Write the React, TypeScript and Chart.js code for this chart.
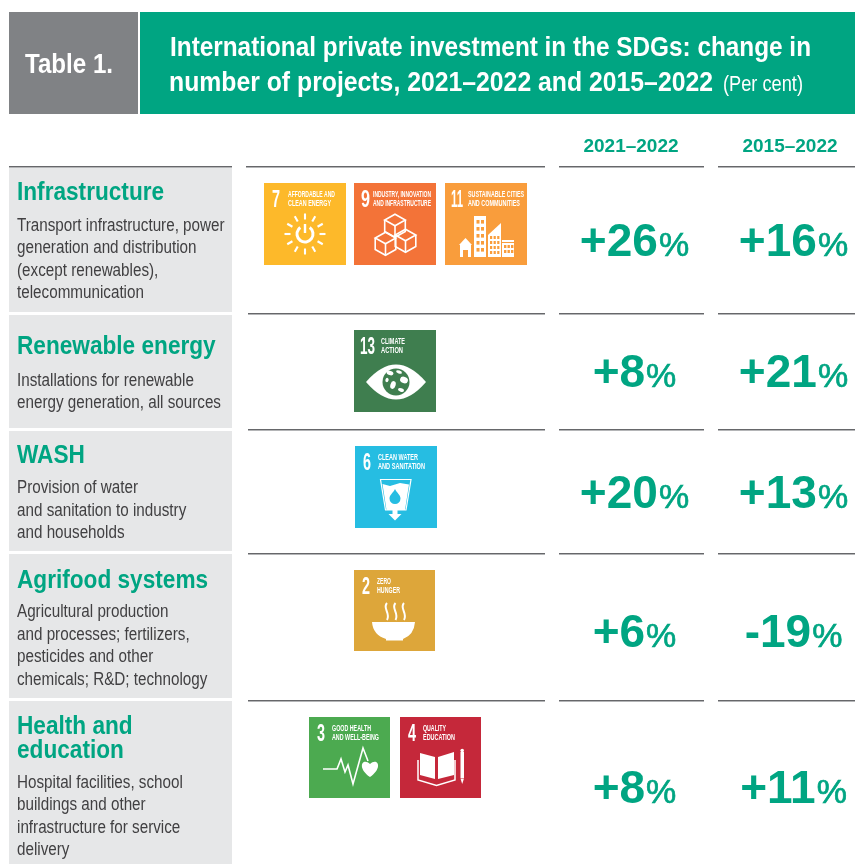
import React, { useEffect, useRef } from "react";
import { Chart, registerables, CategoryScale } from "chart.js";

// ---------- data ----------
const periods = ["2021–2022", "2015–2022"];
const rows = ["Infrastructure", "Renewable energy", "WASH", "Agrifood systems", "Health and education"];
const change2021 = [26, 8, 20, 6, 8];
const change2015 = [16, 21, 13, -19, 11];
const headingLines = [["Infrastructure"], ["Renewable energy"], ["WASH"], ["Agrifood systems"], ["Health and", "education"]];
const descriptions = [
  ["Transport infrastructure, power", "generation and distribution", "(except renewables),", "telecommunication"],
  ["Installations for renewable", "energy generation, all sources"],
  ["Provision of water", "and sanitation to industry", "and households"],
  ["Agricultural production", "and processes; fertilizers,", "pesticides and other", "chemicals; R&D; technology"],
  ["Hospital facilities, school", "buildings and other", "infrastructure for service", "delivery"],
];
const titleLine1 = "International private investment in the SDGs: change in";
const titleLine2 = "number of projects, 2021–2022 and 2015–2022";
const titleUnit = "(Per cent)";
const tableLabel = "Table 1.";
const goalNumbers = [7, 9, 11, 13, 6, 2, 3, 4];
const goalLabels = [
  ["AFFORDABLE AND", "CLEAN ENERGY"],
  ["INDUSTRY, INNOVATION", "AND INFRASTRUCTURE"],
  ["SUSTAINABLE CITIES", "AND COMMUNITIES"],
  ["CLIMATE", "ACTION"],
  ["CLEAN WATER", "AND SANITATION"],
  ["ZERO", "HUNGER"],
  ["GOOD HEALTH", "AND WELL-BEING"],
  ["QUALITY", "EDUCATION"],
];

// ---------- layout and style ----------
const GREEN = "#00A582";
const GREY = "#808285";
const PANEL = "#E6E7E8";
const TEXT = "#414042";
const SANS = '"Liberation Sans", Arial, sans-serif';
const goalColours = ["#FDB92A", "#F37338", "#F99D3C", "#3F7E4F", "#26BDE2", "#DDA63A", "#4CAA50", "#C5283A"];
const goalBoxes = [[264, 183], [354, 183], [445, 183], [354, 330], [355, 446], [354, 570], [309, 717], [400, 717]];
const goalSizes = [82, 82, 82, 82, 82, 81, 81, 81];
const goalDigitX = [8, 7, 6, 6, 8, 8, 8, 8];
const goalDigitW = [8, 9, 12, 15, 8, 8, 8, 8];
const goalLabelX = [24, 19, 23, 27, 23, 23, 23, 23];
const goalLabelW = [[47, 43], [58, 58], [56, 52], [24, 22], [40, 47], [14, 23], [39, 47], [23, 32]];
const rowCentres = [240, 371, 492, 631, 787];
const panels = [[167, 312], [315, 428], [431, 551], [554, 698], [701, 864]];
const ruleYs = [166, 313, 429, 553, 700];
const headBaselines = [[200], [354], [463], [588], [734, 758]];
const descBaselines = [[231, 253, 276, 298], [386, 408], [493, 516, 538], [617, 640, 662, 685], [788, 810, 833, 855]];

function text(ctx: any, s: string, x: number, y: number, font: string, color: string, sx = 1, stroke = 0) {
  ctx.save();
  ctx.font = font;
  ctx.fillStyle = color;
  ctx.textAlign = "left";
  ctx.textBaseline = "alphabetic";
  ctx.translate(x, y);
  ctx.scale(sx, 1);
  ctx.fillText(s, 0, 0);
  if (stroke) {
    ctx.strokeStyle = color;
    ctx.lineWidth = stroke;
    ctx.strokeText(s, 0, 0);
  }
  ctx.restore();
}
function fit(ctx: any, s: string, x: number, y: number, font: string, color: string, w: number) {
  ctx.save();
  ctx.font = font;
  const sx = w / ctx.measureText(s).width;
  ctx.restore();
  text(ctx, s, x, y, font, color, sx);
}

function drawPictogram(ctx: any, goal: number, bg: string) {
  ctx.strokeStyle = "#fff";
  ctx.fillStyle = "#fff";
  ctx.lineCap = "butt";
  ctx.lineJoin = "miter";
  const poly = (p: number[][], close = true) => {
    ctx.beginPath();
    p.forEach(([x, y], i) => (i ? ctx.lineTo(x, y) : ctx.moveTo(x, y)));
    if (close) ctx.closePath();
  };
  if (goal === 7) {
    for (let a = 0; a < 12; a++) {
      const t = (a * Math.PI) / 6;
      ctx.lineWidth = 2.1;
      ctx.beginPath();
      ctx.moveTo(41 + Math.cos(t) * 14.5, 51 + Math.sin(t) * 14.5);
      ctx.lineTo(41 + Math.cos(t) * 20.5, 51 + Math.sin(t) * 20.5);
      ctx.stroke();
    }
    ctx.lineWidth = 3;
    ctx.beginPath();
    ctx.arc(41, 51, 8, -Math.PI * 0.3, Math.PI * 1.3);
    ctx.stroke();
    ctx.lineWidth = 2.4;
    ctx.beginPath();
    ctx.moveTo(41, 41);
    ctx.lineTo(41, 50);
    ctx.stroke();
  } else if (goal === 9) {
    ctx.lineWidth = 1.6;
    const cube = (cx: number, cy: number) => {
      const w = 10.3, h = 5.8, d = 11.5;
      poly([[cx, cy - h], [cx + w, cy], [cx, cy + h], [cx - w, cy]]);
      ctx.stroke();
      poly([[cx - w, cy], [cx - w, cy + d], [cx, cy + h + d], [cx + w, cy + d], [cx + w, cy]], false);
      ctx.stroke();
      ctx.beginPath();
      ctx.moveTo(cx, cy + h);
      ctx.lineTo(cx, cy + h + d);
      ctx.stroke();
    };
    cube(41, 37);
    cube(31.5, 55);
    cube(51.5, 52);
  } else if (goal === 11) {
    poly([[14, 62], [20.5, 55], [27, 62]]);
    ctx.fill();
    ctx.fillRect(15, 62, 11, 12);
    ctx.fillRect(29, 33, 12, 41);
    poly([[43, 74], [43, 52], [56, 40], [56, 74]]);
    ctx.fill();
    ctx.fillRect(57, 57, 12, 2);
    ctx.fillRect(57, 60, 12, 14);
    ctx.fillStyle = bg;
    ctx.fillRect(18, 67, 5, 7);
    for (let r = 0; r < 5; r++) for (let c = 0; c < 2; c++) ctx.fillRect(31.5 + c * 4.5, 37 + r * 7, 3, 3.6);
    for (let r = 0; r < 4; r++) for (let c = 0; c < 3; c++) ctx.fillRect(45 + c * 3.6, 53 + r * 5, 2.2, 3);
    for (let r = 0; r < 2; r++) for (let c = 0; c < 3; c++) ctx.fillRect(59 + c * 3.5, 62 + r * 5, 2.4, 3);
  } else if (goal === 13) {
    ctx.beginPath();
    ctx.moveTo(12, 52);
    ctx.quadraticCurveTo(42, 17, 72, 52);
    ctx.quadraticCurveTo(42, 87, 12, 52);
    ctx.fill();
    ctx.fillStyle = bg;
    ctx.beginPath();
    ctx.arc(42, 52, 13.5, 0, Math.PI * 2);
    ctx.fill();
    ctx.fillStyle = "#fff";
    [[36, 43, 3.5, 2.2], [45, 42, 3, 1.6], [50, 50, 4, 3.2], [39, 55, 2.6, 4], [47, 60, 3, 1.8], [33, 50, 1.6, 2.2]].forEach(([x, y, a, b]) => {
      ctx.beginPath();
      ctx.ellipse(x, y, a, b, 0.3, 0, Math.PI * 2);
      ctx.fill();
    });
  } else if (goal === 6) {
    ctx.lineWidth = 1.2;
    poly([[25.5, 33.5], [56, 33.5], [51, 64], [30.5, 64]]);
    ctx.stroke();
    poly([[27.5, 38], [35, 40], [45, 37], [54, 38.5], [50, 64], [31.5, 64]]);
    ctx.fill();
    ctx.fillRect(37.5, 64, 5, 5);
    poly([[33.5, 68], [46.5, 68], [40, 74.5]]);
    ctx.fill();
    ctx.fillStyle = bg;
    ctx.beginPath();
    ctx.moveTo(40, 43);
    ctx.bezierCurveTo(42, 47, 45.5, 49, 45.5, 52.5);
    ctx.arc(40, 52.5, 5.5, 0, Math.PI);
    ctx.bezierCurveTo(34.5, 49, 38, 47, 40, 43);
    ctx.fill();
  } else if (goal === 2) {
    ctx.beginPath();
    ctx.moveTo(18, 52);
    ctx.lineTo(61, 52);
    ctx.quadraticCurveTo(60, 65, 49, 69);
    ctx.lineTo(49, 70.5);
    ctx.lineTo(32, 70.5);
    ctx.lineTo(32, 69);
    ctx.quadraticCurveTo(19, 65, 18, 52);
    ctx.fill();
    ctx.lineWidth = 2;
    [32, 40.5, 49].forEach((x) => {
      ctx.beginPath();
      ctx.moveTo(x + 1, 33);
      ctx.bezierCurveTo(x - 4, 38, x + 5, 43, x + 1, 50);
      ctx.stroke();
    });
  } else if (goal === 3) {
    ctx.lineWidth = 1.6;
    poly([[14, 52], [28, 52], [32, 42], [36, 55], [39, 48], [44, 67], [54, 31], [59, 44]], false);
    ctx.stroke();
    ctx.beginPath();
    ctx.moveTo(61, 60);
    ctx.bezierCurveTo(47, 50, 54, 40, 61, 47);
    ctx.bezierCurveTo(68, 40, 75, 50, 61, 60);
    ctx.fill();
  } else if (goal === 4) {
    poly([[20, 36], [35, 40], [35, 62], [20, 58]]);
    ctx.fill();
    poly([[38, 40], [54, 35], [54, 58], [38, 62]]);
    ctx.fill();
    ctx.lineWidth = 1.5;
    poly([[18, 43], [18, 63], [36.5, 68.5], [55, 63], [55, 43]], false);
    ctx.stroke();
    ctx.fillRect(60.5, 35, 3.5, 26);
    poly([[60.5, 61.5], [64, 61.5], [62.2, 67]]);
    ctx.fill();
    ctx.beginPath();
    ctx.arc(62.2, 33.5, 1.8, 0, Math.PI * 2);
    ctx.fill();
  }
}

const tablePlugin = {
  id: "tableChrome",
  beforeDraw(chart: any) {
    const ctx = chart.ctx;
    ctx.save();
    ctx.fillStyle = "#fff";
    ctx.fillRect(0, 0, 855, 864);
    ctx.fillStyle = GREY;
    ctx.fillRect(9, 12, 129, 102);
    ctx.fillStyle = GREEN;
    ctx.fillRect(140, 12, 715, 102);
    fit(ctx, tableLabel, 25, 73, `bold 27px ${SANS}`, "#fff", 88);
    fit(ctx, titleLine1, 170, 56, `bold 28px ${SANS}`, "#fff", 641);
    fit(ctx, titleLine2, 169, 91, `bold 28px ${SANS}`, "#fff", 544);
    fit(ctx, titleUnit, 723, 91, `22px ${SANS}`, "#fff", 80);

    panels.forEach(([a, b]) => {
      ctx.fillStyle = PANEL;
      ctx.fillRect(9, a, 223, b - a);
    });
    ruleYs.forEach((y, i) => {
      const spans = i === 0 ? [[9, 232], [246, 545], [559, 704], [718, 855]] : [[248, 545], [559, 704], [718, 855]];
      spans.forEach(([a, b]) => {
        ctx.fillStyle = "#66676A";
        ctx.fillRect(a, y, b - a, 1);
        ctx.fillStyle = "#B4B5B7";
        ctx.fillRect(a, y + 1, b - a, 1);
      });
    });
    headingLines.forEach((lines, r) =>
      lines.forEach((s, i) => text(ctx, s, 17, headBaselines[r][i], `bold 25px ${SANS}`, GREEN, 0.905))
    );
    descriptions.forEach((lines, r) =>
      lines.forEach((s, i) => text(ctx, s, 17, descBaselines[r][i], `17.5px ${SANS}`, TEXT, 0.87))
    );
    goalNumbers.forEach((goal, i) => {
      const [x, y] = goalBoxes[i];
      ctx.save();
      ctx.translate(x, y);
      ctx.fillStyle = goalColours[i];
      ctx.fillRect(0, 0, goalSizes[i], goalSizes[i]);
      fit(ctx, String(goal), goalDigitX[i], 24, `bold 23px ${SANS}`, "#fff", goalDigitW[i]);
      goalLabels[i].forEach((s, l) =>
        fit(ctx, s, goalLabelX[i], 13.5 + l * 9.5, `bold 8.5px ${SANS}`, "#fff", goalLabelW[i][l])
      );
      drawPictogram(ctx, goal, goalColours[i]);
      ctx.restore();
    });
    ctx.restore();
  },
  afterDatasetsDraw(chart: any) {
    const ctx = chart.ctx;
    chart.data.datasets.forEach((ds: any, d: number) => {
      chart.getDatasetMeta(d).data.forEach((el: any, i: number) => {
        const v = ds.data[i].value;
        const num = (v >= 0 ? "+" : "-") + Math.abs(v);
        const big = `bold 46px ${SANS}`;
        const small = `34px ${SANS}`;
        ctx.save();
        ctx.font = big;
        const w1 = ctx.measureText(num).width;
        ctx.font = small;
        const w2 = ctx.measureText("%").width;
        const left = el.x - (w1 + w2) / 2;
        const base = el.y + 16;
        text(ctx, num, left, base, big, GREEN);
        text(ctx, "%", left + w1 + 1, base, small, GREEN, 1, 0.7);
        ctx.restore();
      });
    });
  },
};

class RowScale extends (CategoryScale as any) {
  static id = "rows";
  static defaults = (CategoryScale as any).defaults;
  getPixelForValue(value: any) {
    const i = typeof value === "number" ? value : rows.indexOf(value);
    return rowCentres[i];
  }
}

Chart.register(...registerables, RowScale as any);

export default function App() {
  const ref = useRef<HTMLCanvasElement>(null);
  useEffect(() => {
    const series = [change2021, change2015];
    const chart = new Chart(ref.current as any, {
      type: "scatter",
      data: {
        labels: periods,
        datasets: periods.map((p, s) => ({
          label: p,
          data: rows.map((r, i) => ({ x: p, y: r, value: series[s][i] })),
          pointRadius: 0,
          pointHoverRadius: 0,
          showLine: false,
        })),
      } as any,
      options: {
        animation: false,
        responsive: false,
        events: [],
        layout: { padding: { left: 634, right: 62, top: 135, bottom: 0 } },
        plugins: { legend: { display: false }, tooltip: { enabled: false } },
        scales: {
          x: {
            type: "category",
            labels: periods,
            position: "top",
            offset: false,
            grid: { display: false, drawTicks: false },
            border: { display: false },
            ticks: {
              color: GREEN,
              font: { family: SANS, size: 19, weight: "bold" },
              padding: 0,
              autoSkip: false,
              maxRotation: 0,
              labelOffset: -3,
            },
          },
          y: { type: "rows", labels: rows, display: false },
        },
      } as any,
      plugins: [tablePlugin],
    });
    return () => chart.destroy();
  }, []);
  return (
    <canvas
      ref={ref}
      width={855}
      height={864}
      style={{ position: "absolute", left: 0, top: 0, width: 855, height: 864, display: "block" }}
    />
  );
}
